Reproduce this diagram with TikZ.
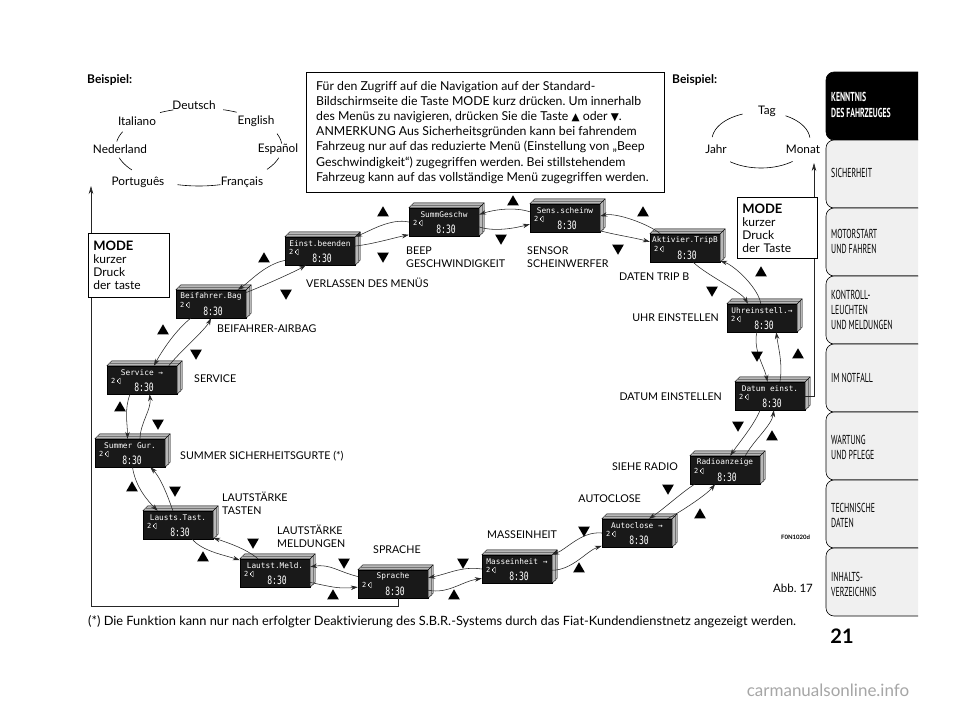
\documentclass[tikz,border=0pt]{standalone}
\usepackage{fontspec}
\setmainfont{Lato}[Ligatures=NoCommon]
\newfontfamily\tabfont[FakeStretch=0.6]{PT Sans}
\newfontfamily\lcdfont{DejaVu Sans Mono}
\newfontfamily\lcdbig[FakeStretch=0.7]{DejaVu Sans Mono}
\newfontfamily\symfont{DejaVu Sans}
\usetikzlibrary{arrows.meta,shapes.geometric,calc}

\tikzset{
  lcdface/.style={fill=black!90, draw=black, line width=0.4pt, minimum width=70pt, minimum height=28pt, inner sep=0pt},
  lcdtitle/.style={text=white, font=\lcdfont\fontsize{7.8}{7.8}\selectfont, inner sep=0pt},
  lcdnum/.style={text=white, font=\lcdfont\fontsize{7}{7}\selectfont, inner sep=0pt, anchor=west},
  lcdtime/.style={text=white, font=\lcdbig\fontsize{11.5}{11.5}\selectfont, inner sep=0pt},
  ext/.style={fill=black!28, draw=black, line width=0.4pt, line join=round},
  nav/.style={-{Stealth[length=7pt,width=4.5pt]}, line width=0.55pt, black!85},
  upkey/.style={regular polygon, regular polygon sides=3, fill=black, minimum size=13.5pt, inner sep=0pt},
  downkey/.style={upkey, shape border rotate=180},
  lbl/.style={font=\fontsize{10.7}{13}\selectfont, inner sep=0pt, align=left},
  lang/.style={font=\fontsize{11.8}{13}\selectfont, inner sep=0pt},
  ring/.style={line width=0.6pt, black},
  tabshape/.style={fill=black!6, draw=black, line width=0.6pt, rounded corners=8pt},
  tabtext/.style={font=\tabfont\fontsize{13}{15}\selectfont, inner sep=0pt, align=left, anchor=west},
  modebox/.style={draw=black, fill=white, line width=0.6pt, anchor=north west, align=left, inner xsep=5pt, inner ysep=4pt, font=\fontsize{12}{13}\selectfont},
  conn/.style={line width=0.55pt, black!85, -{Stealth[length=8pt,width=4.5pt]}},
}

\newcommand\lcd[4]{%
  \node[lcdface] (#1) at (#2,#3) {};
  \path[ext] (#1.north west) -- ++(5,-5) -- ($(#1.north east)+(5,-5)$) -- ($(#1.south east)+(5,-5)$) -- (#1.south east) -- (#1.north east) -- cycle;
  \draw[black!55, line width=0.3pt] ($(#1.north west)+(2.5,-2.5)$) -- ($(#1.north east)+(2.5,-2.5)$) -- ($(#1.south east)+(2.5,-2.5)$);
  \draw[line width=0.4pt] (#1.north east) -- ++(5,-5);
  \node[lcdtitle] (#1-t) at ($(#1.north)+(0,7)$) {#4};
  \node[lcdnum] (#1-n) at ($(#1.west)+(4,1)$) {2};
  \fill[white] ($(#1-n.east)+(1.2,-1.3)$) rectangle ++(1.2,2.6);
  \draw[white, line width=0.4pt] ($(#1-n.east)+(2.6,-1.3)$) -- ++(2.2,-1.5) -- ++(0,5.6) -- ++(-2.2,-1.5) -- cycle;
  \node[lcdtime] (#1-h) at ($(#1.south)+(2,-7)$) {8:30};
}

\begin{document}
\frenchspacing
\begin{tikzpicture}[x=1pt,y=-1pt]
\useasboundingbox (0,0) rectangle (960,709);
\fill[white] (0,0) rectangle (960,709);

% ---------- right tab column ----------
\filldraw[tabshape, fill=black] (918,72) -- (826,72) -- (826,140) -- (918,140);
\filldraw[tabshape] (918,140) -- (826,140) -- (826,208) -- (918,208);
\filldraw[tabshape] (918,208) -- (826,208) -- (826,276) -- (918,276);
\filldraw[tabshape] (918,276) -- (826,276) -- (826,344) -- (918,344);
\filldraw[tabshape] (918,344) -- (826,344) -- (826,412) -- (918,412);
\filldraw[tabshape] (918,412) -- (826,412) -- (826,480) -- (918,480);
\filldraw[tabshape] (918,480) -- (826,480) -- (826,548) -- (918,548);
\filldraw[tabshape] (918,548) -- (826,548) -- (826,616) -- (918,616);
\node[tabtext, text=white, font=\tabfont\bfseries\fontsize{13}{15.5}\selectfont] (tab1) at (831,105) {KENNTNIS\\DES FAHRZEUGES};
\node[tabtext] (tab2) at (831,173) {SICHERHEIT};
\node[tabtext] (tab3) at (831,241) {MOTORSTART\\UND FAHREN};
\node[tabtext] (tab4) at (831,310) {KONTROLL-\\LEUCHTEN\\UND MELDUNGEN};
\node[tabtext] (tab5) at (831,378) {IM NOTFALL};
\node[tabtext] (tab6) at (831,447) {WARTUNG\\UND PFLEGE};
\node[tabtext] (tab7) at (831,515) {TECHNISCHE\\DATEN};
\node[tabtext] (tab8) at (831,584) {INHALTS-\\VERZEICHNIS};
\node[font=\bfseries\fontsize{20}{20}\selectfont, inner sep=0pt] (pagenum) at (842,636) {21};

% ---------- language example ----------
\node[font=\bfseries\fontsize{12}{13}\selectfont, inner sep=0pt, anchor=west] (bsp1) at (87,80) {Beispiel:};
\node[lang] (deutsch) at (194,105) {Deutsch};
\node[lang] (italiano) at (137,121) {Italiano};
\node[lang] (english) at (256,121) {English};
\node[lang] (nederland) at (120,149) {Nederland};
\node[lang] (espanol) at (278,149) {Español};
\node[lang] (portugues) at (138,182) {Português};
\node[lang] (francais) at (242,182) {Français};
\draw[ring] plot[domain=108:118, samples=8] ({199+83*cos(\x)},{147-39*sin(\x)});
\draw[ring] plot[domain=63:73, samples=8] ({199+83*cos(\x)},{147-39*sin(\x)});
\draw[ring] plot[domain=157:172, samples=8] ({199+83*cos(\x)},{147-39*sin(\x)});
\draw[ring] plot[domain=5:20, samples=8] ({199+83*cos(\x)},{147-39*sin(\x)});
\draw[ring] plot[domain=196:216, samples=8] ({199+83*cos(\x)},{147-39*sin(\x)});
\draw[ring] plot[domain=325:344, samples=8] ({199+83*cos(\x)},{147-39*sin(\x)});
\draw[ring] plot[domain=255:285, samples=12] ({199+83*cos(\x)},{147-39*sin(\x)});

% ---------- date example ----------
\node[font=\bfseries\fontsize{12}{13}\selectfont, inner sep=0pt, anchor=west] (bsp2) at (672,80) {Beispiel:};
\node[lang] (tag) at (767,111) {Tag};
\node[lang] (jahr) at (716,149) {Jahr};
\node[lang] (monat) at (803,149) {Monat};
\draw[ring] plot[domain=112:174, samples=16] ({761+49*cos(\x)},{140-28*sin(\x)});
\draw[ring] plot[domain=5:60, samples=16] ({761+49*cos(\x)},{140-28*sin(\x)});
\draw[ring] plot[domain=231:310, samples=20] ({761+49*cos(\x)},{140-28*sin(\x)});

% ---------- info box ----------
\node[draw=black, line width=0.6pt, anchor=north west, minimum width=358pt, minimum height=120pt, inner sep=0pt] (info) at (306,72) {};
\node[anchor=west, align=left, inner sep=0pt, font=\fontsize{12.3}{15.2}\selectfont] (infotext) at ($(info.west)+(10,0)$)
{Für den Zugriff auf die Navigation auf der Standard-\\
Bildschirmseite die Taste MODE kurz drücken. Um innerhalb\\
des Menüs zu navigieren, drücken Sie die Taste {\symfont\fontsize{10.5}{10}\selectfont ▲} oder {\symfont\fontsize{10.5}{10}\selectfont ▼}.\\
ANMERKUNG Aus Sicherheitsgründen kann bei fahrendem\\
Fahrzeug nur auf das reduzierte Menü (Einstellung von „Beep\\
Geschwindigkeit“) zugegriffen werden. Bei stillstehendem\\
Fahrzeug kann auf das vollständige Menü zugegriffen werden.};

% ---------- LCD displays ----------
\lcd{b1}{444}{222}{SummGeschw}
\lcd{b2}{565}{218}{Sens.scheinw}
\lcd{b3}{685}{248}{Aktivier.TripB}
\lcd{b4}{762}{318}{Uhreinstell.→}
\lcd{b5}{770}{396}{Datum einst.}
\lcd{b6}{725}{470}{Radioanzeige}
\lcd{b7}{637}{533}{Autoclose →}
\lcd{b8}{517}{569}{Masseinheit →}
\lcd{b9}{393}{584}{Sprache}
\lcd{b10}{275}{573}{Lautst.Meld.}
\lcd{b11}{178}{525}{Lausts.Tast.}
\lcd{b12}{130}{453}{Summer Gur.}
\lcd{b13}{142}{380}{Service →}
\lcd{b14}{211}{304}{Beifahrer.Bag}
\lcd{b15}{320}{251}{Einst.beenden}

% ---------- navigation arrows ----------
\draw[nav] (b1.180) .. controls +(-18,-4) and +(15,-6) .. (b15.north east);
\draw[nav] (b15.8) .. controls +(18,-2) and +(-15,3) .. (b1.-160);
\draw[nav] (b2.170) .. controls +(-15,-5) and +(15,-5) .. (b1.12);
\draw[nav] (b1.-8) .. controls +(15,5) and +(-15,4) .. (b2.-170);
\draw[nav] (b3.150) .. controls +(-12,-10) and +(15,-4) .. (b2.3);
\draw[nav] (b2.-20) .. controls +(15,4) and +(-15,-4) .. (b3.170);
\draw[nav] (b4.95) .. controls +(-2,-15) and +(15,5) .. (b3.-20);
\draw[nav] (b3.-60) .. controls +(12,12) and +(-6,-12) .. (b4.135);
\draw[nav] (b4.-110) .. controls +(-4,18) and +(-3,-15) .. (b5.100);
\draw[nav] (b5.55) .. controls +(3,-18) and +(2,15) .. (b4.-45);
\draw[nav] (b5.-125) .. controls +(-6,15) and +(8,-12) .. (b6.70);
\draw[nav] (b6.35) .. controls +(8,-15) and +(-2,15) .. (b5.-75);
\draw[nav] (b6.-155) .. controls +(-15,10) and +(15,-10) .. (b7.50);
\draw[nav] (b7.25) .. controls +(15,-8) and +(-8,10) .. (b6.-125);
\draw[nav] (b7.180) .. controls +(-20,-2) and +(15,-6) .. (b8.22);
\draw[nav] (b8.-2) .. controls +(20,0) and +(-15,5) .. (b7.-160);
\draw[nav] (b8.180) .. controls +(-20,-3) and +(20,-4) .. (b9.10);
\draw[nav] (b9.-10) .. controls +(20,4) and +(-20,3) .. (b8.-165);
\draw[nav] (b9.168) .. controls +(-20,-5) and +(20,-3) .. (b10.10);
\draw[nav] (b10.-15) .. controls +(20,4) and +(-20,2) .. (b9.-175);
\draw[nav] (b10.140) .. controls +(-12,-10) and +(15,5) .. (b11.-20);
\draw[nav] (b11.-45) .. controls +(10,12) and +(-15,-5) .. (b10.160);
\draw[nav] (b12.-80) .. controls +(3,20) and +(-10,-10) .. (b11.145);
\draw[nav] (b11.110) .. controls +(-5,-15) and +(10,10) .. (b12.-35);
\draw[nav] (b13.-130) .. controls +(-6,15) and +(0,-15) .. (b12.100);
\draw[nav] (b12.55) .. controls +(0,-15) and +(2,15) .. (b13.-62);
\draw[nav] (b14.-145) .. controls +(-15,12) and +(8,-15) .. (b13.50);
\draw[nav] (b13.28) .. controls +(12,-15) and +(-6,12) .. (b14.-90);
\draw[nav] (b15.-165) .. controls +(-20,4) and +(12,-8) .. (b14.28);
\draw[nav] (b14.18) .. controls +(20,-8) and +(-10,6) .. (b15.-135);

% ---------- up / down keys ----------
\foreach \x/\y [count=\i] in {383/213, 513/202, 643/213, 761/273, 798/355, 772/437, 700/515, 579/569, 454/596, 333/596, 203/558, 132/488, 120/408, 163/331, 264/259}
  \node[upkey] (ku\i) at (\x,\y) {};
\foreach \x/\y [count=\i] in {383/256, 501/238, 618/248, 712/290, 757/355, 738/425, 668/488, 584/530, 463/562, 344/562, 253/542, 175/490, 158/423, 196/353, 286/293}
  \node[downkey] (kd\i) at (\x,\y) {};

% ---------- labels ----------
\node[lbl, anchor=west] (l1) at (406,257) {BEEP\\GESCHWINDIGKEIT};
\node[lbl, anchor=west] (l2) at (527,257) {SENSOR\\SCHEINWERFER};
\node[lbl, anchor=west] (l3) at (619,277) {DATEN TRIP B};
\node[lbl, anchor=east] (l4) at (719,318) {UHR EINSTELLEN};
\node[lbl, anchor=east] (l5) at (722,397) {DATUM EINSTELLEN};
\node[lbl, anchor=east] (l6) at (678,467) {SIEHE RADIO};
\node[lbl, anchor=east] (l7) at (641,499) {AUTOCLOSE};
\node[lbl, anchor=west] (l8) at (487,535) {MASSEINHEIT};
\node[lbl, anchor=west] (l9) at (373,550) {SPRACHE};
\node[lbl, anchor=west] (l10) at (277,536) {LAUTSTÄRKE\\MELDUNGEN};
\node[lbl, anchor=west] (l11) at (222,503) {LAUTSTÄRKE\\TASTEN};
\node[lbl, anchor=west] (l12) at (180,456) {SUMMER SICHERHEITSGURTE (*)};
\node[lbl, anchor=west] (l13) at (194,379) {SERVICE};
\node[lbl, anchor=west] (l14) at (217,329) {BEIFAHRER-AIRBAG};
\node[lbl, anchor=west] (l15) at (306,283) {VERLASSEN DES MENÜS};

% ---------- MODE connectors ----------
\coordinate (langarrow) at (91,186);
\coordinate (monatarrow) at (814,163);
\draw[conn] (b9.-70) -- ++(0,8) -| (langarrow);
\draw[conn] (b5.east) -| (monatarrow);
\node[modebox, text width=71pt, minimum height=64pt] (modeL) at (88,233) {{\bfseries\fontsize{13}{13}\selectfont MODE}\\kurzer\\Druck\\der taste};
\node[modebox, text width=70pt, minimum height=61pt] (modeR) at (737,197) {{\bfseries\fontsize{13}{13}\selectfont MODE}\\kurzer\\Druck\\der Taste};

% ---------- bottom texts ----------
\node[font=\bfseries\fontsize{6}{6}\selectfont, inner sep=0pt, anchor=west] (fcode) at (781,537) {F0N1020d};
\node[font=\fontsize{11.5}{13}\selectfont, inner sep=0pt, anchor=west] (abb) at (773,588) {Abb. 17};
\node[font=\fontsize{12.8}{13}\selectfont, inner sep=0pt, anchor=west] (foot) at (88,622) {(*) Die Funktion kann nur nach erfolgter Deaktivierung des S.B.R.-Systems durch das Fiat-Kundendienstnetz angezeigt werden.};
\node[font=\fontsize{17}{17}\selectfont, text=black!35, inner sep=0pt] (wm) at (828,690) {carmanualsonline.info};
\end{tikzpicture}
\end{document}
